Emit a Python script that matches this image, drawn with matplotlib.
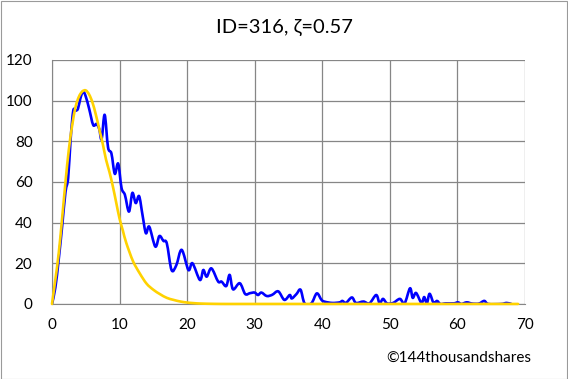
import matplotlib
matplotlib.use("Agg")
import matplotlib.pyplot as plt
from matplotlib.patches import Rectangle, PathPatch
from matplotlib.path import Path

plt.rcParams['font.family'] = ['Lato', 'DejaVu Sans']

title = "ID=316, \u03b6=0.57"
credit = "\u00a9144thousandshares"

# observed series (blue)
obs_x = [0, 0.5, 1, 1.5, 2, 2.4, 2.76, 3.15, 3.5, 3.85, 4.2, 4.6, 5.0, 5.5, 6.1, 6.6, 7.0,
         7.35, 7.8, 8.3, 8.8, 9.3, 9.8, 10.3, 10.8, 11.4, 11.9, 12.4, 12.9, 13.4, 13.9, 14.4,
         15.3, 15.9, 16.5, 17.0, 17.7, 18.4, 19.2, 20.2, 20.8, 21.9, 22.4, 22.9, 23.6, 24.6,
         25.1, 25.8, 26.3, 26.8, 27.8, 28.6, 29.3, 30, 30.5, 31, 31.8, 32.6, 33.5, 34.4, 35.2,
         35.5, 36.2, 36.8, 37.4, 38.4, 39.2, 39.9, 40.4, 41.5, 42.6, 43, 43.5, 44.4, 45, 46.1,
         47, 48, 48.5, 49, 49.6, 50.5, 51.5, 52.2, 53, 53.4, 53.9, 54.7, 55.1, 55.5, 55.9,
         56.5, 57, 57.5, 58.3, 59.5, 60.1, 60.6, 61.4, 62.2, 63.2, 64, 64.6, 66.5, 67.3, 68]
obs_y = [0, 8, 22, 38, 55, 62, 81, 95, 95, 96, 101, 104.5, 102, 96, 88, 88.5, 86,
         81, 93, 77, 74, 64, 69, 57, 53.6, 45.4, 54.6, 49.6, 53, 43.8, 34.8, 38,
         28.2, 33.4, 31, 29.8, 16.7, 19, 26.6, 16.7, 20, 11.8, 16.7, 13.4, 17.5, 11,
         11, 8.8, 14.3, 7.2, 10.2, 4.9, 5.3, 5.6, 4.4, 5.6, 3.9, 4.5, 6.2, 2, 4.4,
         2.7, 4.9, 7, 0.3, 0.3, 5.2, 2, 1.1, 0.5, 0.8, 1.5, 0.5, 3.2, 0.5, 1.2,
         0.3, 4.4, 0.3, 2.5, 0.3, 0.5, 2.5, 0.3, 7.7, 3, 5.4, 0.5, 3.4, 0.3, 5,
         0.5, 1.5, 0, 0.3, 0.3, 0.8, 0, 0.8, 0.2, 0.2, 1.5, 0, 0, 0.5, 0]

# fitted curve (yellow)
fit_x = [0, 0.5, 1, 1.5, 2, 2.5, 3, 3.5, 4, 4.5, 5, 5.5, 6, 6.5, 7, 7.5, 8, 8.5, 9, 9.5,
         10, 10.5, 11, 12, 13, 14, 15, 16, 17, 18, 19, 20, 21, 22, 24, 26, 28, 30,
         35, 40, 45, 50, 55, 60, 65, 69]
fit_y = [0, 12, 25, 42, 60, 76, 88, 97, 102, 104.5, 105, 103, 99, 93, 86, 79, 71, 65, 58, 50,
         42, 36, 30, 21, 15, 10, 7, 4.8, 3, 2, 1.2, 0.7, 0.4, 0.2, 0.05, 0, 0, 0,
         0, 0, 0, 0, 0, 0, 0, 0]

xticks = [0, 10, 20, 30, 40, 50, 60, 70]
yticks = [0, 20, 40, 60, 80, 100, 120]


def smooth_path(xs, ys):
    """Cubic Bezier path through the points (Excel-style smoothed line)."""
    n = len(xs)
    verts = [(xs[0], ys[0])]
    codes = [Path.MOVETO]
    for i in range(n - 1):
        x0, y0 = xs[max(i - 1, 0)], ys[max(i - 1, 0)]
        x1, y1 = xs[i], ys[i]
        x2, y2 = xs[i + 1], ys[i + 1]
        x3, y3 = xs[min(i + 2, n - 1)], ys[min(i + 2, n - 1)]
        c1 = (x1 + (x2 - x0) / 6.0, y1 + (y2 - y0) / 6.0)
        c2 = (x2 - (x3 - x1) / 6.0, y2 - (y3 - y1) / 6.0)
        verts += [c1, c2, (x2, y2)]
        codes += [Path.CURVE4] * 3
    return Path(verts, codes)


fig = plt.figure(figsize=(5.68, 3.79), dpi=100)
fig.patches.append(Rectangle((0.001, 0.001), 0.997, 0.997, transform=fig.transFigure,
                             fill=False, edgecolor='#9a9a9a', linewidth=0.8))
ax = fig.add_axes([0.0915, 0.198, 0.8325, 0.644])

blue = PathPatch(smooth_path(obs_x, obs_y), facecolor='none', edgecolor='#0000FF',
                 linewidth=1.9, joinstyle='round', capstyle='round', zorder=3)
ax.add_patch(blue)
yellow = PathPatch(smooth_path(fit_x, fit_y), facecolor='none', edgecolor='#FFD200',
                   linewidth=1.9, joinstyle='round', capstyle='round', zorder=4,
                   clip_on=False)
ax.add_patch(yellow)

ax.set_xlim(0, 70)
ax.set_ylim(0, 120)
ax.set_xticks(xticks)
ax.set_yticks(yticks)
ax.grid(True, color='#868686', linewidth=0.9, zorder=0)
ax.set_axisbelow(True)
for s in ax.spines.values():
    s.set_visible(False)
ax.spines['left'].set_visible(True)
ax.spines['bottom'].set_visible(True)
ax.spines['left'].set_color('#868686')
ax.spines['bottom'].set_color('#868686')
ax.tick_params(length=0, labelsize=11, pad=10, colors='#000000')
ax.tick_params(axis='y', pad=14)

fig.text(0.5, 0.928, title, ha='center', va='center', fontsize=14.5)
fig.text(0.935, 0.055, credit, ha='right', va='center', fontsize=11)

fig.savefig("out.png", dpi=100)
